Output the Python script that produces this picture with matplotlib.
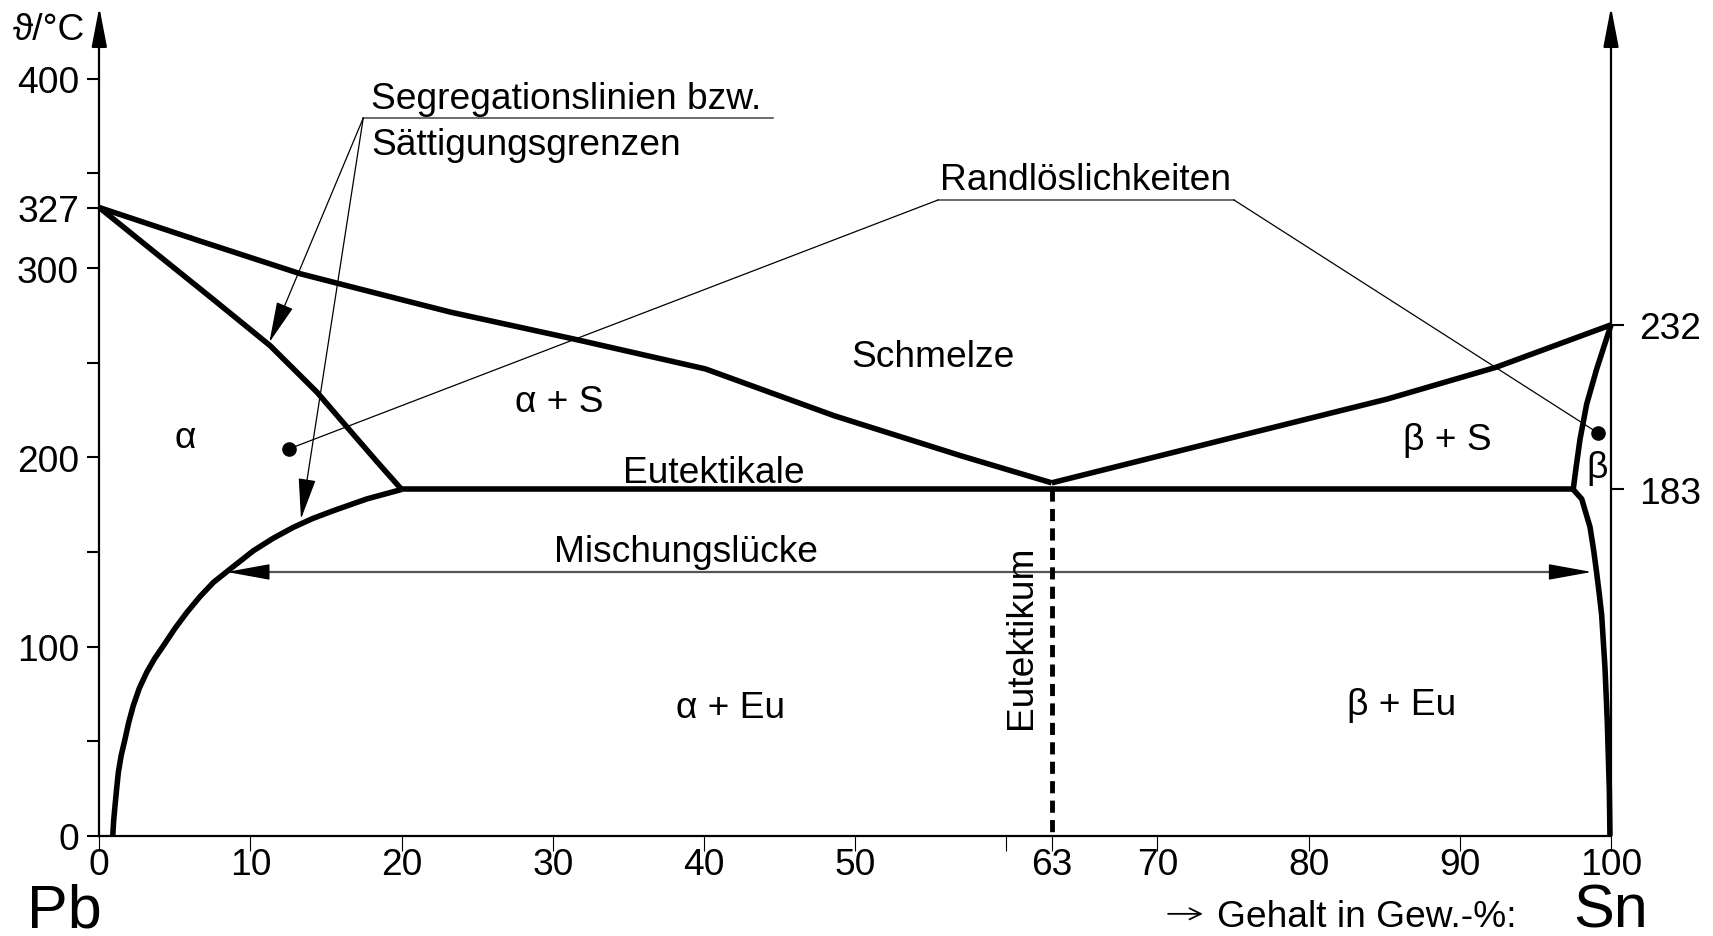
import matplotlib
matplotlib.use('Agg')
import matplotlib.pyplot as plt

plt.rcParams['font.family'] = ['Liberation Sans', 'DejaVu Sans']

# ---------------- data ----------------
# composition in Gew.-% Sn, temperature in diagram units (°C scale)
liq_left_x = [0, 6.7, 13.3, 19.9, 23.3, 31.4, 40.1, 48.6, 57.0, 63]
liq_left_y = [332, 314.2, 297, 283.5, 276.6, 262.5, 246.7, 222, 200.8, 186.5]
liq_right_x = [63, 74.6, 85.2, 92.4, 100]
liq_right_y = [186.5, 209.7, 230.8, 247.6, 270]
sol_left_x = [0, 3.1, 7.5, 11.3, 14.4, 16.6, 18.4, 20]
sol_left_y = [332, 312, 283.7, 259, 234.4, 214, 197.4, 183]
solv_left_x = [0.89, 0.95, 1.04, 1.15, 1.26, 1.45, 1.70, 1.95, 2.25, 2.65, 3.14, 3.65, 4.24,
               5.0, 5.79, 6.65, 7.55, 8.65, 10.19, 11.5, 12.84, 14.1, 15.49, 17.7, 20]
solv_left_y = [0, 8, 15.9, 25, 33.5, 42.5, 51, 60, 68.8, 78, 86.4, 93.5, 100.4,
               109.5, 118, 126.3, 133.9, 140.9, 150.6, 157.2, 163, 167.6, 171.8, 178, 183]
sol_right_x = [100, 99.05, 98.39, 97.95, 97.69, 97.5]
sol_right_y = [270, 246.6, 228.1, 209.5, 194.7, 183]
solv_right_x = [97.5, 98.06, 98.61, 98.85, 99.05, 99.22, 99.38, 99.6, 99.75, 99.89, 99.93]
solv_right_y = [183, 178, 163.2, 151, 139, 128, 116.8, 89, 61.2, 24.2, 0]
eut_x = [20, 97.5]
eut_y = [183, 183]
eutektikum_x = 63

x_ticks = [0, 10, 20, 30, 40, 50, 60, 63, 70, 80, 90, 100]
x_labels = ['0', '10', '20', '30', '40', '50', '', '63', '70', '80', '90', '100']
y_ticks = [0, 50, 100, 150, 200, 250, 300, 332, 350, 400]
y_labels = ['0', '', '100', '', '200', '', '300', '327', '', '400']
yr_ticks = [183, 270]
yr_labels = ['183', '232']

FS = 26.7
LW = 4.0

fig = plt.figure(figsize=(17.13, 9.37), dpi=100)
ax = fig.add_axes([0.05797, 0.10704, 0.88249, 0.88442])
ax.set_xlim(0, 100)
ax.set_ylim(0, 438)

for s in ['top', 'right']:
    ax.spines[s].set_visible(False)
ax.spines['left'].set_bounds(0, 425)
ax.spines['left'].set_linewidth(1.6)
ax.spines['bottom'].set_linewidth(1.6)

ax.set_xticks(x_ticks, labels=x_labels)
ax.set_yticks(y_ticks, labels=y_labels)
ax.tick_params(axis='x', direction='out', length=10.8, width=0.8, pad=-3, labelsize=FS)
ax.tick_params(axis='y', direction='out', length=8.6, width=1.5, pad=6, labelsize=FS)

ax2 = ax.twinx()
ax2.set_ylim(0, 438)
for s in ['top', 'left', 'bottom']:
    ax2.spines[s].set_visible(False)
ax2.spines['right'].set_bounds(0, 425)
ax2.spines['right'].set_linewidth(1.6)
ax2.set_yticks(yr_ticks, labels=yr_labels)
ax2.tick_params(axis='y', direction='out', length=9.4, width=1.5, pad=11, labelsize=FS)

# axis arrow heads
for xa in (0, 100):
    ax.annotate('', xy=(xa, 438), xytext=(xa, 424),
                arrowprops=dict(arrowstyle='-|>,head_length=2.45,head_width=0.47',
                                mutation_scale=10, color='k', lw=1.6,
                                shrinkA=0, shrinkB=0),
                annotation_clip=False)

# phase boundaries
kw = dict(color='k', lw=LW, solid_joinstyle='round', solid_capstyle='butt', clip_on=False, zorder=3)
ax.plot(liq_left_x, liq_left_y, **kw)
ax.plot(liq_right_x, liq_right_y, **kw)
ax.plot(sol_left_x, sol_left_y, **kw)
ax.plot(solv_left_x, solv_left_y, **kw)
ax.plot(sol_right_x, sol_right_y, **kw)
ax.plot(solv_right_x, solv_right_y, **kw)
ax.plot(eut_x, eut_y, **kw)
ax.plot([eutektikum_x, eutektikum_x], [183, 0], color='k', lw=3.5,
        linestyle=(0, (2.5, 1.5)), zorder=3, clip_on=False)

# Mischungslücke double arrow
ax.plot([9.5, 97.7], [139.4, 139.4], color='#555555', lw=1.6, zorder=2)
for tip, tail in ((8.43, 11.0), (98.72, 96.2)):
    ax.annotate('', xy=(tip, 139.4), xytext=(tail, 139.4),
                arrowprops=dict(arrowstyle='-|>,head_length=2.75,head_width=0.5',
                                mutation_scale=10, color='k', lw=1.0,
                                shrinkA=0, shrinkB=0))

# Segregationslinien leaders
seg_origin = (17.46, 379.3)
for tip in ((11.25, 260.8), (13.34, 167.4)):
    ax.annotate('', xy=tip, xytext=seg_origin,
                arrowprops=dict(arrowstyle='-|>,head_length=2.6,head_width=0.55',
                                mutation_scale=10, color='k', lw=0.9,
                                shrinkA=0, shrinkB=0))
ax.plot([17.46, 44.54], [379.3, 379.3], color='#444444', lw=1.1)
ax.text(17.97, 384.6, 'Segregationslinien bzw.', fontsize=FS, ha='left', va='baseline')
ax.text(17.97, 360.5, 'Sättigungsgrenzen', fontsize=FS, ha='left', va='baseline')

# Randlöslichkeiten
ax.plot([55.48, 75.06], [336, 336], color='#444444', lw=1.1)
ax.plot([55.48, 12.53], [336, 204.4], color='k', lw=0.9)
ax.plot([75.06, 99.15], [336, 212.8], color='k', lw=0.9)
ax.plot([12.53, 99.15], [204.4, 212.8], linestyle='none', marker='o', ms=9.5, color='k', zorder=4)
ax.text(55.6, 341.7, 'Randlöslichkeiten', fontsize=FS, ha='left', va='baseline')

# region labels
ax.text(55.15, 248.4, 'Schmelze', fontsize=FS, ha='center', va='baseline')
ax.text(30.44, 224.6, 'α + S', fontsize=FS, ha='center', va='baseline')
ax.text(5.67, 205.3, 'α', fontsize=FS, ha='center', va='baseline')
ax.text(40.65, 186.8, 'Eutektikale', fontsize=FS, ha='center', va='baseline')
ax.text(89.14, 204.4, 'β + S', fontsize=FS, ha='center', va='baseline')
ax.text(99.05, 189.6, 'β', fontsize=FS, ha='center', va='baseline')
ax.text(38.78, 145.3, 'Mischungslücke', fontsize=FS, ha='center', va='baseline')
ax.text(41.75, 62.6, 'α + Eu', fontsize=FS, ha='center', va='baseline')
ax.text(86.14, 64.3, 'β + Eu', fontsize=FS, ha='center', va='baseline')
ax.text(61.0, 105.3, 'Eutektikum', fontsize=FS, rotation=90, ha='center', va='center')

# axis titles
ax.text(-0.95, 421.1, 'ϑ/°C', fontsize=FS, ha='right', va='baseline', clip_on=False)
ax.text(-2.33, -47.8, 'Pb', fontsize=44, ha='center', va='baseline', clip_on=False)
ax.text(100.0, -47.8, 'Sn', fontsize=44, ha='center', va='baseline', clip_on=False)
ax.text(93.78, -47.6, 'Gehalt in Gew.-%:', fontsize=FS, ha='right', va='baseline', clip_on=False)
# the "→" in front of the axis title
ax.annotate('', xy=(73.0, -41.3), xytext=(70.7, -41.3),
            arrowprops=dict(arrowstyle='->,head_length=0.45,head_width=0.22',
                            mutation_scale=18, color='k', lw=1.3,
                            shrinkA=0, shrinkB=0),
            annotation_clip=False)

fig.savefig('out.png', dpi=100)
